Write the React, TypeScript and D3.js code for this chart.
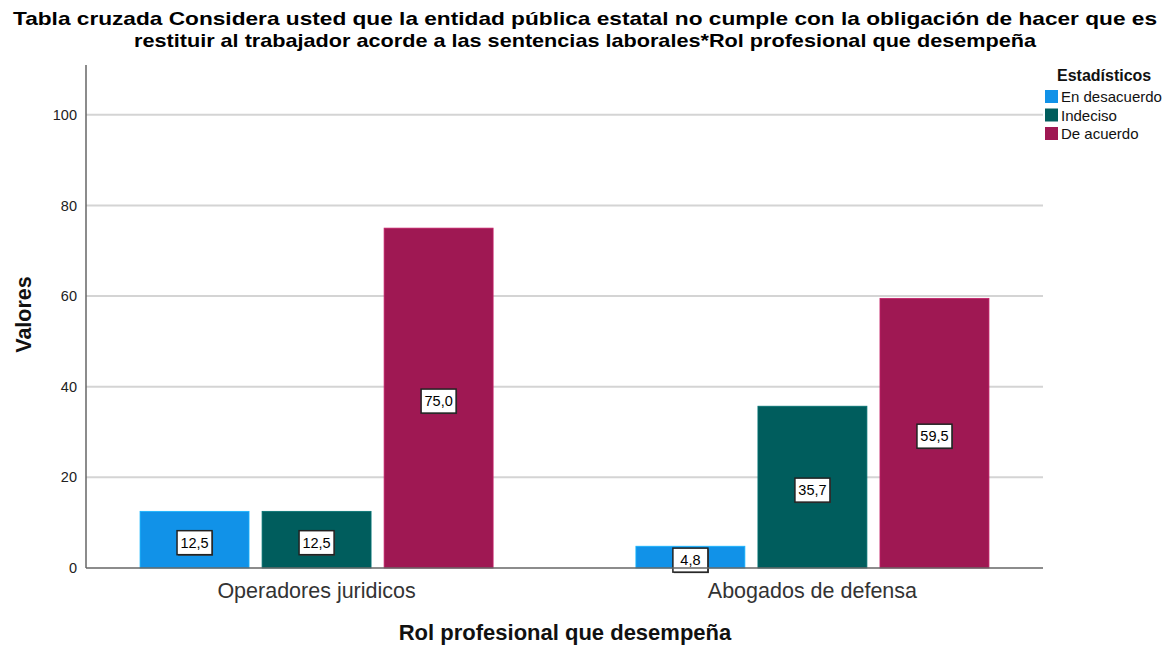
import * as d3 from "d3";

const categories = ["Operadores juridicos", "Abogados de defensa"];
const series = ["En desacuerdo", "Indeciso", "De acuerdo"];
const enDesacuerdo = [12.5, 4.8];
const indeciso = [12.5, 35.7];
const deAcuerdo = [75.0, 59.5];
const yTicks = [0, 20, 40, 60, 80, 100];
const colors = ["#1192e8", "#005d5d", "#9f1853"];

const W = 1170;
const H = 647;
const margin = { left: 86, right: 127, top: 65, bottom: 79 };
const font = "Liberation Sans, Arial, sans-serif";

const App = () => {
  const innerW = W - margin.left - margin.right;
  const innerH = H - margin.top - margin.bottom;
  const values = [enDesacuerdo, indeciso, deAcuerdo];

  const x0 = d3
    .scaleBand<string>()
    .domain(categories)
    .range([0, innerW])
    .paddingInner(0.288)
    .paddingOuter(0.109);
  const x1 = d3
    .scaleBand<string>()
    .domain(series)
    .range([0, x0.bandwidth()])
    .paddingInner(0.107);
  const y = d3.scaleLinear().domain([0, 111]).range([innerH, 0]);

  const fmt = (v: number) => v.toFixed(1).replace(".", ",");

  return (
    <svg width={W} height={H} style={{ position: "absolute", left: 0, top: 0 }} fontFamily={font}>
      <rect width={W} height={H} fill="#fff" />
      <text textAnchor="middle" fontWeight="bold" fontSize={18.5} fill="#000">
        <tspan x={585} y={25} textLength={1144} lengthAdjust="spacingAndGlyphs">
          Tabla cruzada Considera usted que la entidad pública estatal no cumple con la obligación de hacer que es
        </tspan>
        <tspan x={585} y={47} textLength={902} lengthAdjust="spacingAndGlyphs">
          restituir al trabajador acorde a las sentencias laborales*Rol profesional que desempeña
        </tspan>
      </text>

      <g transform={`translate(${margin.left},${margin.top})`}>
        {yTicks
          .filter((t) => t > 0)
          .map((t) => (
            <line key={t} x1={0} x2={innerW} y1={y(t)} y2={y(t)} stroke="#d4d4d4" strokeWidth={2} />
          ))}
        {yTicks.map((t) => (
          <text key={t} x={-9} y={y(t)} dy="0.35em" textAnchor="end" fontSize={14.5} fill="#222">
            {t}
          </text>
        ))}

        {categories.map((c, ci) => (
          <g key={c} transform={`translate(${x0(c)},0)`}>
            {series.map((s, si) => {
              const v = values[si][ci];
              return (
                <rect
                  key={s}
                  x={x1(s)}
                  y={y(v)}
                  width={x1.bandwidth()}
                  height={innerH - y(v)}
                  fill={colors[si]}
                  stroke={d3.color(colors[si])!.brighter(0.6).formatHex()}
                  strokeWidth={0.8}
                />
              );
            })}
            {series.map((s, si) => {
              const v = values[si][ci];
              const cx = (x1(s) as number) + x1.bandwidth() / 2;
              const cy = y(v / 2) + 3;
              return (
                <g key={s + "l"} transform={`translate(${cx},${cy})`}>
                  <rect x={-16.5} y={-11} width={35} height={24} fill="#444" />
                  <rect x={-17.5} y={-12} width={35} height={24} fill="#fff" stroke="#222" strokeWidth={1.5} />
                  <text x={0} y={0} dy="0.36em" textAnchor="middle" fontSize={14.5} fill="#000">
                    {fmt(v)}
                  </text>
                </g>
              );
            })}
            <text
              x={x0.bandwidth() / 2}
              y={innerH + 30}
              textAnchor="middle"
              fontSize={21.5}
              fill="#333"
            >
              {c}
            </text>
          </g>
        ))}

        <line x1={0} x2={0} y1={0} y2={innerH} stroke="#666" strokeWidth={1.5} />
        <line x1={0} x2={innerW} y1={innerH} y2={innerH} stroke="#666" strokeWidth={1.5} />
      </g>

      <text
        transform={`translate(31,${margin.top + innerH / 2 - 2}) rotate(-90)`}
        textAnchor="middle"
        fontSize={21.5}
        fontWeight="bold"
        fill="#111"
      >
        Valores
      </text>
      <text x={565} y={640} textAnchor="middle" fontSize={22} fontWeight="bold" fill="#111">
        Rol profesional que desempeña
      </text>

      <g transform="translate(1045,70)">
        <text x={12} y={11} fontSize={16} fontWeight="bold" fill="#111">
          Estadísticos
        </text>
        {series.map((s, i) => (
          <g key={s} transform={`translate(0,${20 + i * 18.5})`}>
            <rect x={0} y={0} width={13} height={13} fill={colors[i]} />
            <text x={16} y={7} dy="0.35em" fontSize={15} fill="#111">
              {s}
            </text>
          </g>
        ))}
      </g>
    </svg>
  );
};

export default App;
